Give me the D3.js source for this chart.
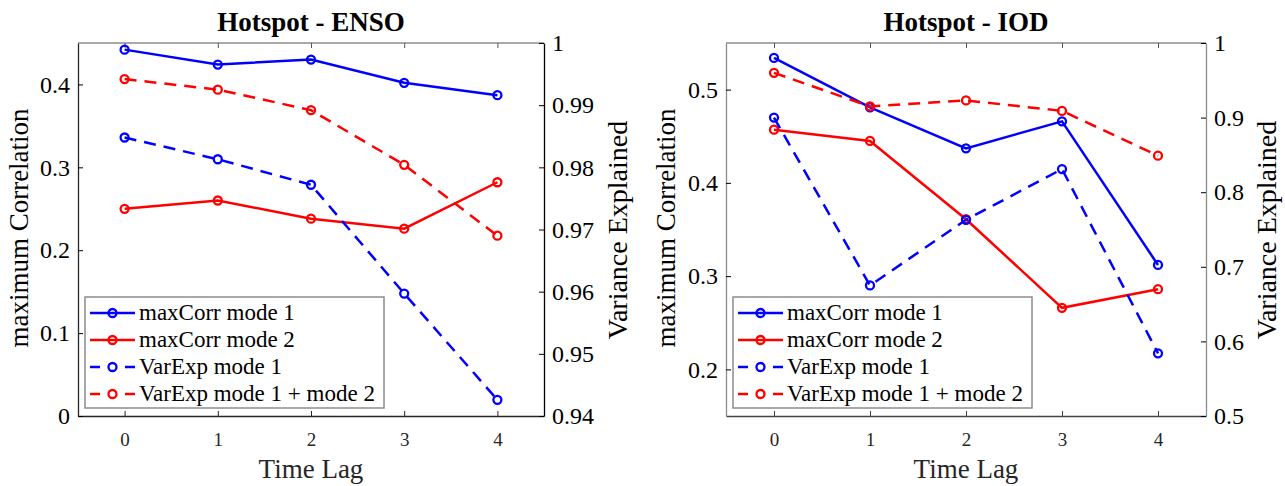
<!DOCTYPE html>
<html>
<head>
<meta charset="utf-8">
<script src="https://cdn.jsdelivr.net/npm/d3@7"></script>
<style>
  body { margin: 0; background: #fff; }
  svg { display: block; }
  svg text { font-family: "Liberation Serif", "Times New Roman", serif; }
</style>
</head>
<body>
<svg id="chart" width="1285" height="486"></svg>
<script>
// Time lags (x axis)
const lags = [0, 1, 2, 3, 4];
const xTicks = [0, 1, 2, 3, 4];

// Hotspot - ENSO
const ensoCorr1 = [0.442, 0.424, 0.430, 0.402, 0.387];
const ensoCorr2 = [0.250, 0.260, 0.238, 0.226, 0.282];
const ensoVar1 = [0.9848, 0.9813, 0.9772, 0.9597, 0.9426];
const ensoVar12 = [0.9942, 0.9925, 0.9892, 0.9804, 0.9690];
const ensoLeftTicks = [0, 0.1, 0.2, 0.3, 0.4];
const ensoRightTicks = [0.94, 0.95, 0.96, 0.97, 0.98, 0.99, 1];

// Hotspot - IOD
const iodCorr1 = [0.534, 0.481, 0.437, 0.466, 0.312];
const iodCorr2 = [0.457, 0.445, 0.361, 0.266, 0.286];
const iodVar1 = [0.900, 0.675, 0.763, 0.831, 0.584];
const iodVar12 = [0.960, 0.915, 0.923, 0.909, 0.849];
const iodLeftTicks = [0.2, 0.3, 0.4, 0.5];
const iodRightTicks = [0.5, 0.6, 0.7, 0.8, 0.9, 1];

const legendNames = ["maxCorr mode 1", "maxCorr mode 2", "VarExp mode 1", "VarExp mode 1 + mode 2"];

const svg = d3.select("#chart");

function drawPanel(p) {
    let g = svg.append("g");

    let x = d3.scaleLinear().domain([-0.5, 4.5]).range([p.x0, p.x1]);
    let yL = d3.scaleLinear().domain(p.leftDomain).range([p.y1, p.y0]);
    let yR = d3.scaleLinear().domain(p.rightDomain).range([p.y1, p.y0]);

    // box: top edge
    g.append("line").attr("x1", p.x0).attr("x2", p.x1).attr("y1", p.y0).attr("y2", p.y0)
        .attr("stroke", "#8c8c8c").attr("stroke-width", 1.3);

    // bottom axis
    let bottom = g.append("g").attr("transform", `translate(0,${p.y1})`)
        .call(d3.axisBottom(x).tickValues(xTicks).tickSize(-5).tickPadding(17).tickSizeOuter(0)
        .tickFormat(d3.format("d")));
    bottom.attr("font-family", null);
    bottom.select(".domain").attr("stroke", p.bottomColor).attr("stroke-width", 1.3);
    bottom.selectAll(".tick line").attr("stroke", p.bottomColor);
    bottom.selectAll("text").attr("font-size", 19).attr("fill", "#262626");

    // top ticks
    let top = g.append("g").attr("transform", `translate(0,${p.y0})`)
        .call(d3.axisTop(x).tickValues(xTicks).tickSize(-5).tickFormat("").tickSizeOuter(0));
    top.select(".domain").remove();
    top.selectAll(".tick line").attr("stroke", "#555");

    // left axis
    let left = g.append("g").attr("transform", `translate(${p.x0},0)`)
        .call(d3.axisLeft(yL).tickValues(p.leftTicks).tickSize(-5).tickPadding(8).tickSizeOuter(0)
        .tickFormat(d => d === 0 ? "0" : d3.format(".1f")(d)));
    left.attr("font-family", null);
    left.select(".domain").attr("stroke", p.leftColor).attr("stroke-width", 1.3);
    left.selectAll(".tick line").attr("stroke", "#000");
    left.selectAll("text").attr("font-size", 24).attr("fill", "#000");

    // right axis
    let right = g.append("g").attr("transform", `translate(${p.x1},0)`)
        .call(d3.axisRight(yR).tickValues(p.rightTicks).tickSize(-5).tickPadding(8).tickSizeOuter(0)
        .tickFormat(d => d === 1 ? "1" : d3.format(p.rightFmt)(d)));
    right.attr("font-family", null);
    right.select(".domain").attr("stroke", p.rightColor).attr("stroke-width", 1.3);
    right.selectAll(".tick line").attr("stroke", "#000");
    right.selectAll("text").attr("font-size", 24).attr("fill", "#000");

    // series
    let series = [
        { vals: p.corr1, scale: yL, color: "#0000ff", dash: null },
        { vals: p.corr2, scale: yL, color: "#ff0000", dash: null },
        { vals: p.var1, scale: yR, color: "#0000ff", dash: "12,8" },
        { vals: p.var12, scale: yR, color: "#ff0000", dash: "12,8" }
    ];

    series.forEach(s => {
        let pts = lags.map((l, i) => [l, s.vals[i]]);
        let line = d3.line().x(d => x(d[0])).y(d => s.scale(d[1]));
        g.append("path").datum(pts)
            .attr("d", line)
            .attr("fill", "none")
            .attr("stroke", s.color)
            .attr("stroke-width", 2.5)
            .attr("stroke-dasharray", s.dash);
        g.selectAll(null).data(pts).join("circle")
            .attr("cx", d => x(d[0]))
            .attr("cy", d => s.scale(d[1]))
            .attr("r", 4)
            .attr("fill", "none")
            .attr("stroke", s.color)
            .attr("stroke-width", 2.3);
    });

    // title
    g.append("text").attr("x", (p.x0 + p.x1) / 2).attr("y", 31)
        .attr("text-anchor", "middle").attr("font-size", 27).attr("font-weight", "bold")
        .text(p.title);

    // axis labels
    g.append("text").attr("x", (p.x0 + p.x1) / 2).attr("y", 478)
        .attr("text-anchor", "middle").attr("font-size", 27).attr("fill", "#262626")
        .text("Time Lag");
    g.append("text").attr("transform", `translate(${p.leftLabelX},228) rotate(-90)`)
        .attr("text-anchor", "middle").attr("font-size", 27)
        .text("maximum Correlation");
    g.append("text").attr("transform", `translate(${p.rightLabelX},230) rotate(-90)`)
        .attr("text-anchor", "middle").attr("font-size", 28)
        .text("Variance Explained");

    // legend
    let lg = g.append("g");
    lg.append("rect").attr("x", p.legX).attr("y", 297).attr("width", p.legW).attr("height", 111)
        .attr("fill", "#fff").attr("stroke", "#8c8c8c").attr("stroke-width", 1.5);
    legendNames.forEach((name, i) => {
        let yy = 313 + i * 27;
        let sx = p.legX + 5;
        lg.append("line").attr("x1", sx).attr("x2", sx + 45).attr("y1", yy).attr("y2", yy)
            .attr("stroke", series[i].color).attr("stroke-width", 2.5)
            .attr("stroke-dasharray", series[i].dash ? "10,25" : null);
        lg.append("circle").attr("cx", sx + 22.5).attr("cy", yy).attr("r", 4)
            .attr("fill", "none").attr("stroke", series[i].color).attr("stroke-width", 2.3);
        lg.append("text").attr("x", sx + 49).attr("y", yy + 7)
            .attr("font-size", 23).text(name);
    });
}

drawPanel({
    title: "Hotspot - ENSO",
    x0: 78, x1: 544, y0: 43, y1: 416,
    leftDomain: [0, 0.45], rightDomain: [0.94, 1],
    leftTicks: ensoLeftTicks, rightTicks: ensoRightTicks, rightFmt: ".2f",
    corr1: ensoCorr1, corr2: ensoCorr2, var1: ensoVar1, var12: ensoVar12,
    leftColor: "#262626", rightColor: "#000", bottomColor: "#262626",
    leftLabelX: 28, rightLabelX: 627,
    legX: 85, legW: 299
});

drawPanel({
    title: "Hotspot - IOD",
    x0: 726, x1: 1206, y0: 43, y1: 416,
    leftDomain: [0.15, 0.55], rightDomain: [0.5, 1],
    leftTicks: iodLeftTicks, rightTicks: iodRightTicks, rightFmt: ".1f",
    corr1: iodCorr1, corr2: iodCorr2, var1: iodVar1, var12: iodVar12,
    leftColor: "#8c8c8c", rightColor: "#8c8c8c", bottomColor: "#444",
    leftLabelX: 675, rightLabelX: 1276,
    legX: 733, legW: 299
});
</script>
</body>
</html>
